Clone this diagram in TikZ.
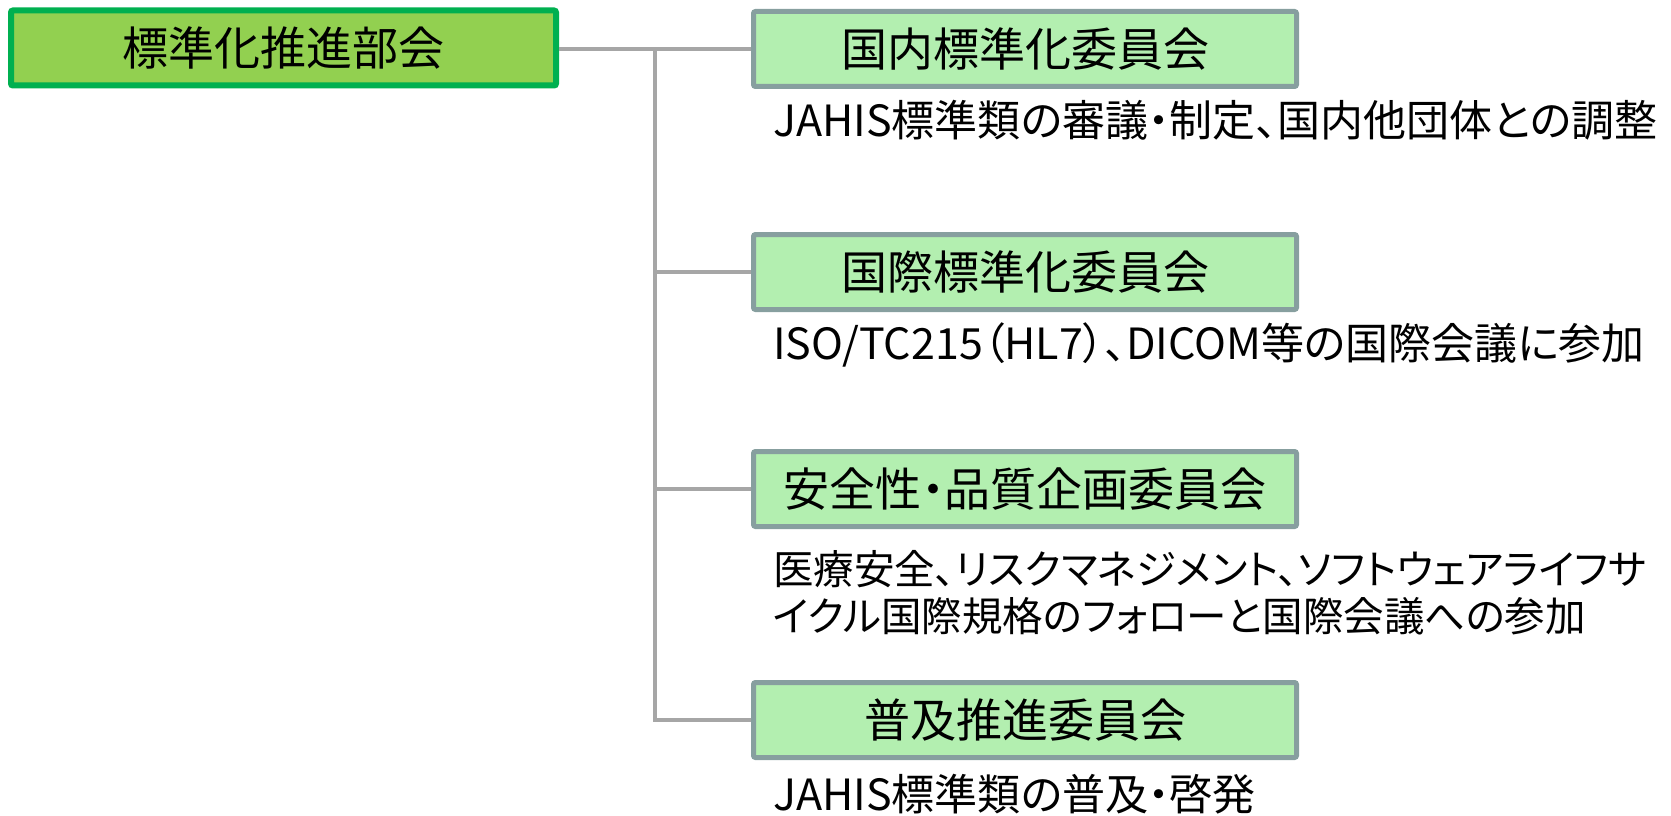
\documentclass[tikz,border=0pt]{standalone}
\usepackage{fontspec}
\setmainfont{Noto Sans CJK JP}[RawFeature=+palt]
\usepackage{tikz}
\definecolor{bukaiiro}{HTML}{92D050}
\definecolor{bukaisen}{HTML}{00B050}
\definecolor{iinkaiiro}{HTML}{B3EFB0}
\definecolor{iinkaisen}{HTML}{879F9F}
\definecolor{senniro}{HTML}{A6A6A6}
\tikzset{
	bukai/.style={draw=bukaisen,fill=bukaiiro,line width=6pt,rounded corners=2pt,minimum width=545pt,minimum height=75pt,font=\fontsize{46}{50}\selectfont},
	iinkai/.style={draw=iinkaisen,fill=iinkaiiro,line width=5pt,rounded corners=2pt,minimum width=543pt,minimum height=75pt,font=\fontsize{46}{50}\selectfont},
	setsumei/.style={anchor=west,inner sep=0pt,align=left,font=\fontsize{43}{47}\selectfont},
	sen/.style={draw=senniro,line width=3.5pt}
}

\begin{document}
\begin{tikzpicture}[x=1pt,y=-1pt]
	\useasboundingbox (0,0) rectangle (1671,816);
	\node[bukai] (bukai) at (283.5,48) {標準化推進部会};
	\node[iinkai] (kokunai) at (1025,49) {国内標準化委員会};
	\node[iinkai] (kokusai) at (1025,272) {国際標準化委員会};
	\node[iinkai] (anzen) at (1025,489) {安全性・品質企画委員会};
	\node[iinkai] (fukyu) at (1025,720) {普及推進委員会};
	\node[setsumei] (kokunaisetsu) at (773,120) {JAHIS標準類の審議・制定、国内他団体との調整};
	\node[setsumei] (kokusaisetsu) at (773,345) {ISO/TC215（HL7）、DICOM等の国際会議に参加};
	\node[setsumei,font=\fontsize{40.5}{47}\selectfont] (anzensetsu) at (773,593) {医療安全、リスクマネジメント、ソフトウェアライフサ\\イクル国際規格のフォローと国際会議への参加};
	\node[setsumei] (fukyusetsu) at (773,794) {JAHIS標準類の普及・啓発};
	\coordinate (bunki) at (655,49);
	\draw[sen] (bukai.east |- kokunai.west) -- (kokunai.west);
	\draw[sen] (bunki) |- (fukyu.west);
	\draw[sen] (bunki |- kokusai.west) -- (kokusai.west);
	\draw[sen] (bunki |- anzen.west) -- (anzen.west);
\end{tikzpicture}
\end{document}
